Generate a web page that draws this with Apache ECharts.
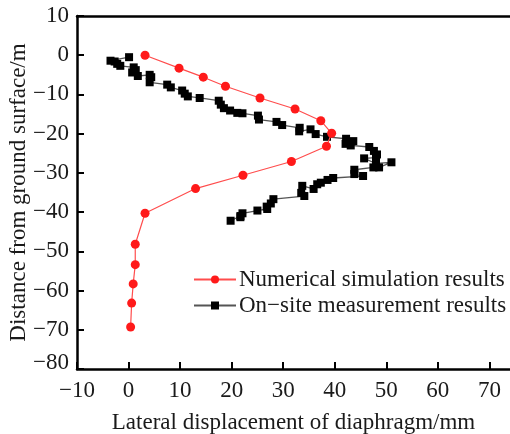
<!DOCTYPE html>
<html>
<head>
<meta charset="utf-8">
<script src="https://cdn.jsdelivr.net/npm/echarts@6/dist/echarts.min.js"></script>
<style>
  html, body { margin: 0; padding: 0; background: #fff; }
  #chart { width: 510px; height: 434px; }
</style>
</head>
<body>
<div id="chart"></div>
<script>
// Numerical model: [lateral displacement (mm), depth (m)]
const simulated = [
  [3.2, 0], [9.8, -3.3], [14.5, -5.6], [18.8, -7.9], [25.5, -10.9],
  [32.3, -13.7], [37.3, -16.7], [39.4, -19.9], [38.4, -23.2], [31.6, -27.1],
  [22.2, -30.6], [13.0, -34.0], [3.2, -40.3], [1.3, -48.2], [1.3, -53.4],
  [0.9, -58.3], [0.6, -63.2], [0.4, -69.3]
];

// Inclinometer readings: [lateral displacement (mm), depth (m)]
const measured = [
  [0.1, -0.5], [-3.5, -1.4], [-2.7, -1.6], [-2.2, -2.2], [-1.6, -2.7],
  [1.0, -3.1], [1.4, -3.8], [0.7, -4.4], [1.8, -5.3], [4.1, -5.0],
  [4.4, -5.6], [4.1, -6.9], [7.5, -7.5], [8.2, -8.2], [10.4, -9.0],
  [10.9, -9.8], [11.5, -10.5], [13.8, -10.9], [17.5, -11.6], [17.9, -12.6],
  [18.5, -13.5], [19.7, -14.1], [21.1, -14.7], [22.1, -14.8], [25.1, -15.4],
  [25.3, -16.4], [28.7, -17.0], [29.8, -17.8], [33.2, -18.5], [33.1, -19.4],
  [35.3, -18.9], [36.3, -20.1], [38.5, -20.8], [42.2, -21.3], [43.6, -21.9],
  [42.1, -22.6], [43.1, -23.0], [46.7, -23.4], [47.6, -24.4], [48.2, -25.3],
  [48.0, -26.1], [45.7, -26.3], [48.0, -27.6], [51.0, -27.3], [48.6, -28.6],
  [47.5, -28.6], [43.8, -29.2], [43.8, -30.3], [45.5, -30.8], [39.7, -31.3],
  [38.6, -31.8], [37.3, -32.5], [36.6, -32.9], [35.9, -34.1], [33.7, -33.3],
  [33.5, -35.1], [34.1, -35.9], [28.1, -36.7], [27.6, -37.8], [26.8, -38.6],
  [26.9, -39.2], [25.0, -39.6], [22.1, -40.3], [21.7, -41.0], [21.7, -41.3],
  [19.8, -42.2]
];

const seriesNames = ['Numerical simulation results', 'On\u2212site measurement results'];
const xTitle = 'Lateral displacement of diaphragm/mm';
const yTitle = 'Distance from ground surface/m';

const serif = "'Liberation Serif', 'Times New Roman', serif";
const ink = '#1a1a1a';
const minus = v => String(v).replace('-', '\u2212');

const chart = echarts.init(document.getElementById('chart'), null, { renderer: 'canvas' });

chart.setOption({
  animation: false,
  backgroundColor: '#fff',
  grid: { left: 77, right: 0, top: 16, bottom: 65, containLabel: false, outerBoundsMode: 'none' },
  legend: {
    orient: 'vertical',
    left: 188,
    top: 263,
    itemWidth: 42,
    itemHeight: 10,
    itemGap: 3,
    textStyle: { fontFamily: serif, fontSize: 23, color: ink, padding: [0, 0, 0, -2] },
    data: seriesNames
  },
  xAxis: [{
    type: 'value',
    min: -10, max: 74, interval: 10,
    name: xTitle,
    nameLocation: 'middle',
    nameGap: 42,
    nameMoveOverlap: false,
    nameTextStyle: { fontFamily: serif, fontSize: 23, color: ink },
    axisLine: { onZero: false, lineStyle: { color: '#000', width: 2.5 } },
    axisTick: { inside: true, length: 7, lineStyle: { color: '#000', width: 2 } },
    axisLabel: {
      fontFamily: serif, fontSize: 23, color: ink, margin: 10,
      showMaxLabel: false,
      formatter: minus
    },
    splitLine: { show: false }
  }, {
    type: 'value',
    position: 'top',
    min: -10, max: 74,
    axisLine: { onZero: false, lineStyle: { color: '#000', width: 2.5 } },
    axisTick: { show: false },
    axisLabel: { show: false },
    splitLine: { show: false }
  }],
  yAxis: {
    type: 'value',
    min: -80, max: 10, interval: 10,
    name: yTitle,
    nameLocation: 'middle',
    nameGap: 47,
    nameMoveOverlap: false,
    nameTextStyle: { fontFamily: serif, fontSize: 23, color: ink },
    axisLine: { onZero: false, lineStyle: { color: '#000', width: 2.5 } },
    axisTick: { inside: true, length: 7, lineStyle: { color: '#000', width: 2 } },
    axisLabel: {
      fontFamily: serif, fontSize: 23, color: ink, margin: 8,
      formatter: v => v === -80 ? '{low|' + minus(v) + '}' : minus(v),
      rich: { low: { fontFamily: serif, fontSize: 23, color: ink, padding: [0, 0, 12, 0] } }
    },
    splitLine: { show: false }
  },
  series: [{
    name: seriesNames[0],
    type: 'line',
    data: simulated,
    symbol: 'circle',
    symbolSize: 9,
    itemStyle: { color: '#ff1a1a' },
    lineStyle: { color: '#ff4d4d', width: 1.2 },
    z: 3
  }, {
    name: seriesNames[1],
    type: 'line',
    data: measured,
    symbol: 'rect',
    symbolSize: 8,
    itemStyle: { color: '#000' },
    lineStyle: { color: '#555', width: 1.3 },
    z: 2
  }]
});
</script>
</body>
</html>
